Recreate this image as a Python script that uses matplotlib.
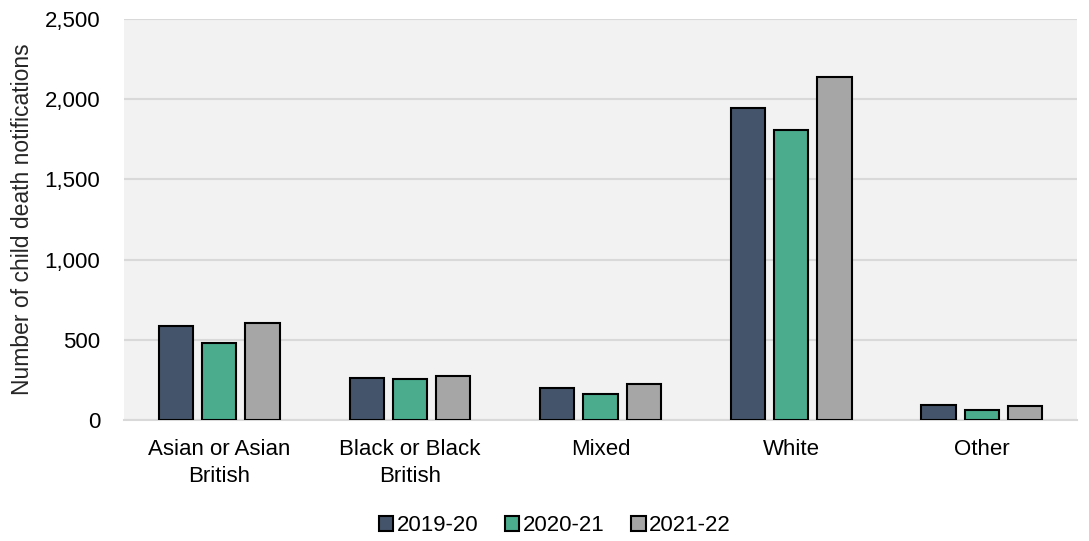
import numpy as np
import matplotlib.pyplot as plt
from matplotlib.ticker import FuncFormatter

plt.rcParams['font.family'] = ['Liberation Sans', 'DejaVu Sans']

categories = ['Asian or Asian\nBritish', 'Black or Black\nBritish', 'Mixed', 'White', 'Other']
years = ['2019-20', '2020-21', '2021-22']
v_2019_20 = [585, 261, 202, 1944, 91]
v_2020_21 = [477, 254, 163, 1807, 65]
v_2021_22 = [602, 273, 225, 2139, 85]
colours = ['#44546a', '#4bab8d', '#a6a6a6']

fig = plt.figure(figsize=(10.89, 5.41), dpi=100)
ax = fig.add_axes([0.1139, 0.2237, 0.8751, 0.7412])
ax.set_facecolor('#f2f2f2')

x = np.arange(len(categories))
width = 0.18
step = 0.227
for i, (vals, lab) in enumerate(zip([v_2019_20, v_2020_21, v_2021_22], years)):
    ax.bar(x + (i - 1) * step, vals, width, color=colours[i], edgecolor='black',
           linewidth=1.5, label=lab, zorder=3)

ax.set_xlim(-0.5, len(categories) - 0.5)
ax.set_ylim(0, 2500)
ax.set_yticks(range(0, 2501, 500))
ax.yaxis.set_major_formatter(FuncFormatter(lambda v, p: f'{int(v):,}'))
ax.set_xticks(x)
ax.set_xticklabels(categories, linespacing=1.35)
ax.grid(axis='y', color='#d9d9d9', linewidth=1.5, zorder=0)
for s in ['top', 'right', 'left']:
    ax.spines[s].set_visible(False)
ax.spines['bottom'].set_color('#d9d9d9')
ax.spines['bottom'].set_linewidth(1.5)
ax.tick_params(axis='both', length=0, labelsize=16, colors='black')
ax.tick_params(axis='x', pad=14)
ax.tick_params(axis='y', pad=17)
ax.set_ylabel('Number of child death notifications', fontsize=16.5, labelpad=8,
              color='#262626')

ax.legend(loc='center', bbox_to_anchor=(0.452, -0.264), ncol=3, frameon=False,
          fontsize=16, handlelength=0.65, handleheight=0.65, handletextpad=0.15,
          columnspacing=1.2)

fig.savefig('out.png', dpi=100, facecolor='white')
